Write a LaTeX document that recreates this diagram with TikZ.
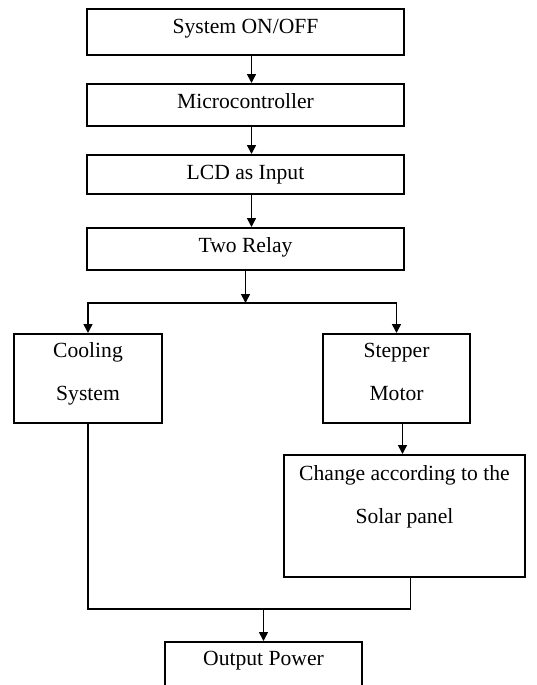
\documentclass[tikz,border=0pt]{standalone}
\usepackage{fontspec}
\setmainfont{Liberation Serif}
\usetikzlibrary{arrows.meta}
\begin{document}
\begin{tikzpicture}[>={Triangle[length=4.5pt,width=4.5pt]},x=0.5pt,y=-0.5pt,line width=0.8pt]
	\tikzset{blk/.style={draw,rectangle,inner sep=0pt,align=center,anchor=north,
			font=\fontsize{10.8}{21.5}\selectfont}
	}
	\useasboundingbox (0,0) rectangle (536,685);
	\clip (0,0) rectangle (536,685);
	\node[blk,minimum width=158.5pt,text height=12.5pt,text depth=10.5pt] (sys) at (245.5,8) {System ON/OFF};
	\node[blk,minimum width=158.5pt,text height=12.5pt,text depth=8.5pt] (mcu) at (245.5,83) {Microcontroller};
	\node[blk,minimum width=158.5pt,text height=12.5pt,text depth=7pt] (lcd) at (245.5,154) {LCD as Input};
	\node[blk,minimum width=158.5pt,text height=12.5pt,text depth=8.5pt] (relay) at (245.5,227) {Two Relay};
	\node[blk,minimum width=74pt,text height=33.5pt,text depth=11pt] (cool) at (88,333) {Cooling\\System};
	\node[blk,minimum width=73.5pt,text height=33.5pt,text depth=11pt] (stepper) at (396.5,333) {Stepper\\Motor};
	\node[blk,minimum width=120.5pt,text height=34.5pt,text depth=26.5pt] (change) at (404.5,454) {Change according to the\\Solar panel};
	\node[blk,minimum width=98.5pt,text height=12pt,text depth=18pt] (out) at (263.5,641) {Output Power};
	\coordinate (split) at (245.5,303);
	\coordinate (join) at (263.5,609);
	% main chain
	\foreach \a/\b in {sys/mcu,mcu/lcd,lcd/relay}{
		\draw[->] ([xshift=3pt]\a.south)--([xshift=3pt]\b.north);}
	\draw[->] (relay.south)--(split);
	\draw[->] (split)-|(cool.north);
	\draw[->] (split)-|(stepper.north);
	\draw[->] ([xshift=3pt]stepper.south)--([xshift=3pt]stepper.south|-change.north);
	% back to output
	\draw (cool.south)|-(join);
	\draw ([xshift=3pt]change.south)|-(join);
	\draw[->] (join)--(out.north);
\end{tikzpicture}
\end{document}
